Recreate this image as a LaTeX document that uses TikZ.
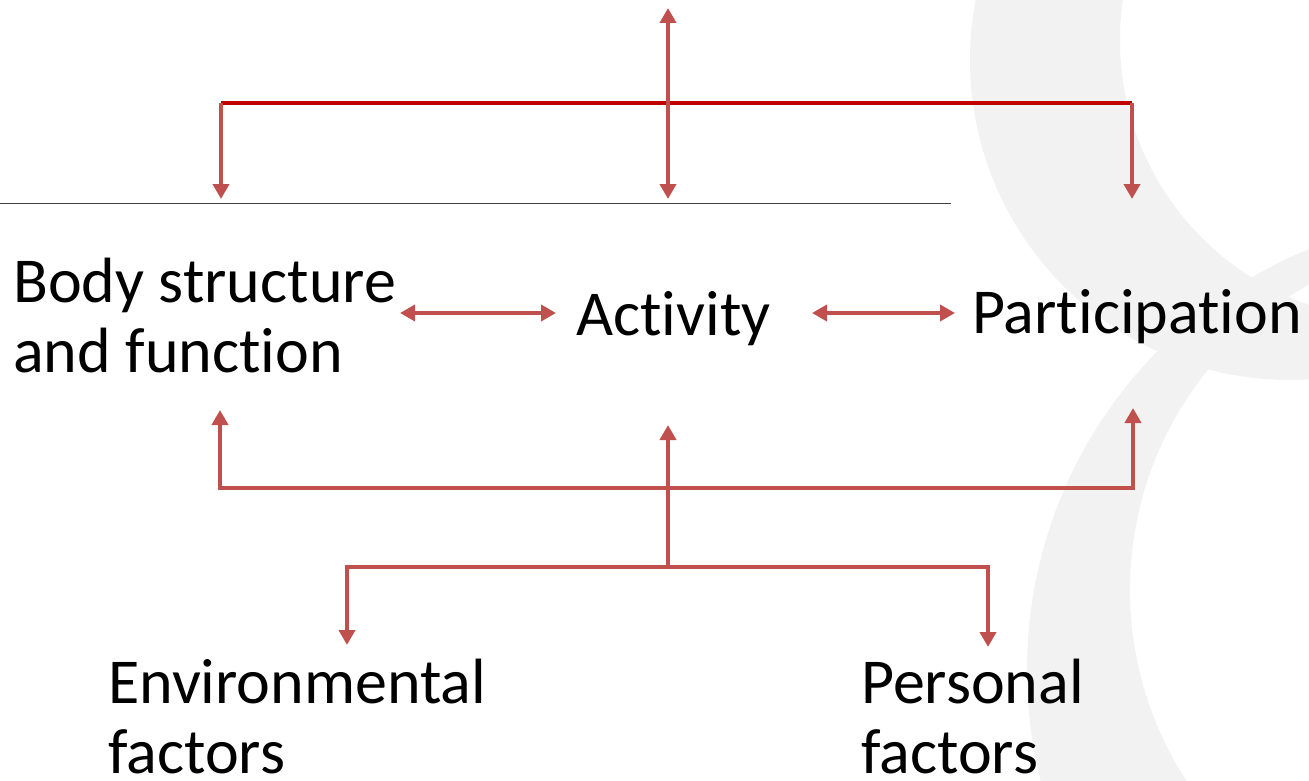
\documentclass[tikz,border=0pt]{standalone}
\usepackage{fontspec}
\setmainfont{Carlito}[Ligatures={NoCommon}]
\usetikzlibrary{arrows.meta}
\definecolor{icfred}{RGB}{192,80,77}
\definecolor{icfdark}{RGB}{192,0,0}
\definecolor{ringgray}{RGB}{242,242,242}
\tikzset{
	tip/.tip={Triangle[width=16pt,length=15pt]},
	link/.style={icfred, line width=4pt},
	box/.style={inner sep=0pt, anchor=base west, align=left, font=\fontsize{64}{70}\selectfont}
}
\begin{document}
\begin{tikzpicture}[x=1pt, y=-1pt]
	\useasboundingbox (0,0) rectangle (1309,781);
	\begin{scope}
		\clip (0,0) rectangle (1309,781);
		\fill[ringgray, even odd rule] (1290,60) circle (320pt) (1400,40) circle (280pt);
		\fill[ringgray, even odd rule] (1482,670) circle (455pt) (1480,590) circle (350pt);
	\end{scope}
	
	% two-line nodes sit on their last line
	\node[box] (body) at (13,372) {Body structure\\and function};
	\node[box] (act) at (576,335) {Activity};
	\node[box] (part) at (972,333) {Participation};
	\node[box] (env) at (108,773) {Environmental\\factors};
	\node[box] (pers) at (861,773) {Personal\\factors};
	
	\coordinate (topl) at (221,103);
	\coordinate (topr) at (1132,103);
	\coordinate (up) at (668,8);
	\coordinate (downl) at (221,199);
	\coordinate (downm) at (668,199);
	\coordinate (downr) at (1132,199);
	\coordinate (lineend) at (951,203);
	\coordinate (ba1) at (400,313);
	\coordinate (ba2) at (556,313);
	\coordinate (ap1) at (812,313);
	\coordinate (ap2) at (955,313);
	\coordinate (bl) at (220,410);
	\coordinate (br) at (1133,408);
	\coordinate (mtip) at (668,425);
	\coordinate (mid) at (668,567);
	\coordinate (el) at (347,645);
	\coordinate (pr) at (988,647);
	
	\draw[icfdark, line width=4.5pt] (topl) -- (topr);
	\draw[link, -tip] (topl) -- (downl);
	\draw[link, -tip] (topr) -- (downr);
	\draw[link, tip-tip] (up) -- (downm);
	\draw[black!75, line width=1pt] (0,203) -- (lineend);
	
	\draw[link, tip-tip] (ba1) -- (ba2);
	\draw[link, tip-tip] (ap1) -- (ap2);
	
	\draw[link, tip-tip] (bl) |- (668,488) -| (br);
	\draw[link, -tip] (mid) -- (mtip);
	\draw[link, tip-tip] (el) |- (mid) -| (pr);
\end{tikzpicture}
\end{document}
